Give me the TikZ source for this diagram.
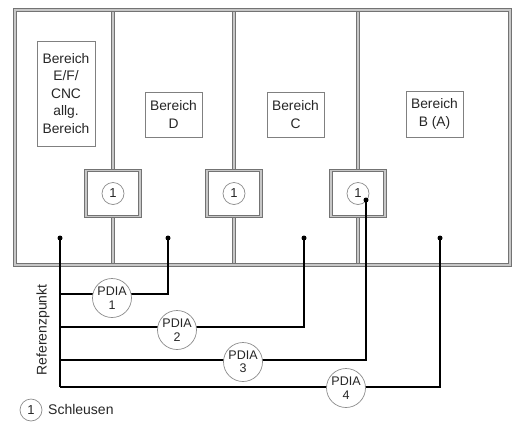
\documentclass[tikz,border=0pt]{standalone}
\usepackage{fontspec}
\setmainfont{Liberation Sans}
\begin{document}
\begin{tikzpicture}[x=1pt,y=-1pt,
  wall/.style={draw=black!55, double=black!22, line width=1pt, double distance=1.8pt},
  lockbox/.style={wall, fill=white, minimum width=54pt, minimum height=46pt, inner sep=0pt},
  areabox/.style={draw=black!50, line width=0.7pt, fill=white, align=center, text=black!85,
    font=\fontsize{13.8}{17.5}\selectfont, inner sep=0pt},
  num/.style={circle, draw=black!45, line width=0.7pt, fill=white, minimum size=22pt, inner sep=0pt,
    text=black!85, font=\fontsize{13}{13}\selectfont},
  pdia/.style={circle, draw=black!45, line width=0.7pt, fill=white, minimum size=39pt, inner sep=0pt,
    align=center, text=black!85, font=\fontsize{12.5}{13.5}\selectfont},
  conn/.style={line width=1.8pt, black},
  dot/.style={circle, fill=black, minimum size=5pt, inner sep=0pt},
  lbl/.style={text=black!85, font=\fontsize{14}{14}\selectfont, inner sep=0pt}]
\useasboundingbox (0,0) rectangle (517,421);

\coordinate (w1t) at (113,10);  \coordinate (w1b) at (113,265);
\coordinate (w2t) at (234,10);  \coordinate (w2b) at (234,265);
\coordinate (w3t) at (358,10);  \coordinate (w3b) at (358,265);
\path (113,193.5) coordinate (l1c) (234,193.5) coordinate (l2c) (358,193.5) coordinate (l3c);

% walls
\draw[wall] (w1t) -- (w1b);
\draw[wall] (w2t) -- (w2b);
\draw[wall] (w3t) -- (w3b);
% outer frame
\draw[wall] (15,10) rectangle (510,265);

% locks
\node[lockbox] (lock1) at (l1c) {};
\node[lockbox] (lock2) at (l2c) {};
\node[lockbox] (lock3) at (l3c) {};
\node[num] (n1) at (lock1) {1};
\node[num] (n2) at (lock2) {1};
\node[num] (n3) at (lock3) {1};

% area labels
\node[areabox, minimum width=58pt, minimum height=105pt] (aE) at (66,93.5) {Bereich\\E/F/\\CNC\\allg.\\Bereich};
\node[areabox, minimum width=57pt, minimum height=45pt] (aD) at (173.5,114.5) {Bereich\\D};
\node[areabox, minimum width=57pt, minimum height=45pt] (aC) at (295.5,114.5) {Bereich\\C};
\node[areabox, minimum width=57pt, minimum height=46pt] (aB) at (434.5,114) {Bereich\\B (A)};

% measurement points
\node[dot] (d1) at (60,238) {};
\node[dot] (d2) at (168,238) {};
\node[dot] (d3) at (304,238) {};
\node[dot] (d4) at (440,238) {};
\node[dot] (d5) at (366,200) {};
\coordinate (r1) at (60,294);
\coordinate (r2) at (60,327);
\coordinate (r3) at (60,360);
\coordinate (r4) at (60,387);

% connectors
\draw[conn] (d1.center) -- (r4);
\draw[conn, line width=2.3pt] (r1) -| (d2.center);
\draw[conn] (r2) -| (d3.center);
\draw[conn] (r3) -| (d5.center);
\draw[conn] (r4) -| (d4.center);

% PDIA circles
\node[pdia] (p1) at (112,298) {PDIA\\1};
\node[pdia] (p2) at (177,330) {PDIA\\2};
\node[pdia] (p3) at (243,362) {PDIA\\3};
\node[pdia] (p4) at (346,388) {PDIA\\4};

% labels
\node[lbl, rotate=90] (ref) at (43,330) {Referenzpunkt};
\node[num] (leg) at (31,410) {1};
\node[lbl, anchor=west] (legtext) at (48,409) {Schleusen};
\end{tikzpicture}
\end{document}
